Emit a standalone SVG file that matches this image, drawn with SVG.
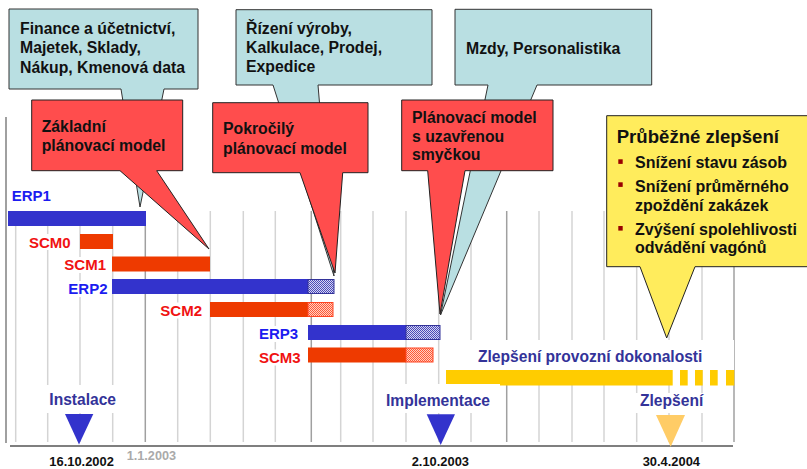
<svg xmlns="http://www.w3.org/2000/svg" width="807" height="469" viewBox="0 0 807 469">
  <defs>
    <style>
      text { font-family: "Liberation Sans", Arial, sans-serif; font-weight: bold; }
      .grid { stroke: #d4d4d4; stroke-width: 1.5; }
      .grid-major { stroke: #a0a0a0; stroke-width: 1.5; }
      .axis { stroke: #808080; stroke-width: 1.5; }
      .base { stroke: #555555; stroke-width: 1.5; }
      .bg { fill: #ffffff; }
      .erp { fill: #3333cc; }
      .scm { fill: #ee3a00; }
      .erp-lbl { fill: #1c1cf0; font-size: 15px; }
      .scm-lbl { fill: #f01212; font-size: 15px; }
      .callout-blue { fill: #b9dfe2; stroke: #333333; stroke-width: 1; }
      .callout-red { fill: #ff4d4d; stroke: #222222; stroke-width: 1; }
      .callout-yellow { fill: #ffec5c; stroke: #222222; stroke-width: 1; }
      .ct { fill: #111111; font-size: 15.8px; }
      .ms { fill: #333399; font-size: 15.6px; }
      .date { fill: #111111; font-size: 12.9px; }
      .date-minor { fill: #aaaaaa; font-size: 12.7px; }
      .bullet { fill: #990000; }
      .yt { fill: #111111; font-size: 16px; }
    </style>
    <pattern id="hatchBlue" width="2" height="2" patternUnits="userSpaceOnUse">
      <rect width="2" height="2" fill="#d4d4f2"/>
      <rect width="1" height="1" fill="#4a4ab8"/>
      <rect x="1" y="1" width="1" height="1" fill="#4a4ab8"/>
    </pattern>
    <pattern id="hatchOrange" width="2" height="2" patternUnits="userSpaceOnUse">
      <rect width="2" height="2" fill="#ffd0c4"/>
      <rect width="1" height="1" fill="#ff5a36"/>
      <rect x="1" y="1" width="1" height="1" fill="#ff5a36"/>
    </pattern>
  </defs>

  <rect width="807" height="469" fill="#ffffff"/>

  <!-- monthly grid -->
  <g id="grid">
    <line class="axis" x1="6" y1="117" x2="6" y2="443"/>
    <line class="grid" x1="15.7" y1="211" x2="15.7" y2="442"/>
    <line class="grid" x1="47.7" y1="211" x2="47.7" y2="442"/>
    <line class="grid" x1="80" y1="211" x2="80" y2="442"/>
    <line class="grid" x1="112.7" y1="211" x2="112.7" y2="442"/>
    <line class="grid-major" x1="145.3" y1="226" x2="145.3" y2="442"/>
    <line class="grid" x1="177.7" y1="211" x2="177.7" y2="442"/>
    <line class="grid" x1="210.3" y1="211" x2="210.3" y2="442"/>
    <line class="grid" x1="243.3" y1="211" x2="243.3" y2="442"/>
    <line class="grid" x1="275.3" y1="211" x2="275.3" y2="442"/>
    <line class="grid-major" x1="311.3" y1="211" x2="311.3" y2="442"/>
    <line class="grid" x1="340.7" y1="211" x2="340.7" y2="442"/>
    <line class="grid" x1="373" y1="211" x2="373" y2="442"/>
    <line class="grid" x1="406" y1="211" x2="406" y2="442"/>
    <line class="grid" x1="438.7" y1="211" x2="438.7" y2="442"/>
    <line class="grid" x1="471" y1="211" x2="471" y2="442"/>
    <line class="grid-major" x1="506.7" y1="211" x2="506.7" y2="442"/>
    <line class="grid" x1="539" y1="211" x2="539" y2="442"/>
    <line class="grid" x1="572" y1="211" x2="572" y2="442"/>
    <line class="grid" x1="604" y1="211" x2="604" y2="442"/>
    <line class="grid" x1="636.7" y1="211" x2="636.7" y2="442"/>
    <line class="grid" x1="669" y1="211" x2="669" y2="442"/>
    <line class="grid" x1="702" y1="211" x2="702" y2="442"/>
    <line class="grid-major" x1="734" y1="211" x2="734" y2="442"/>
    <line class="base" x1="10" y1="446" x2="733" y2="446"/>
  </g>

  <!-- project phases -->
  <g id="erp1">
    <rect class="erp" x="8" y="211" width="138" height="15"/>
    <text class="erp-lbl" x="11.7" y="201">ERP1</text>
  </g>
  <g id="scm0">
    <rect class="bg" x="27" y="234" width="47" height="16"/>
    <rect class="scm" x="80" y="234" width="33" height="15"/>
    <text class="scm-lbl" x="29" y="247.5">SCM0</text>
  </g>
  <g id="scm1">
    <rect class="bg" x="62" y="257" width="45" height="16"/>
    <rect class="scm" x="112" y="256.5" width="98" height="15"/>
    <text class="scm-lbl" x="64.3" y="270">SCM1</text>
  </g>
  <g id="erp2">
    <rect class="bg" x="66" y="281" width="44" height="16"/>
    <rect class="erp" x="112" y="279" width="196" height="15"/>
    <rect x="308" y="279.5" width="26" height="14" fill="url(#hatchBlue)" stroke="#333399" stroke-width="1"/>
    <text class="erp-lbl" x="68.3" y="294.3">ERP2</text>
  </g>
  <g id="scm2">
    <rect class="bg" x="158" y="302.5" width="46" height="16"/>
    <rect class="scm" x="210" y="302" width="98" height="15"/>
    <rect x="308" y="302.5" width="25" height="14" fill="url(#hatchOrange)" stroke="#ff4422" stroke-width="1"/>
    <text class="scm-lbl" x="160.3" y="315.7">SCM2</text>
  </g>
  <g id="erp3">
    <rect class="bg" x="257" y="326" width="43" height="16"/>
    <rect class="erp" x="308" y="325" width="98" height="15"/>
    <rect x="406" y="325.5" width="34" height="14" fill="url(#hatchBlue)" stroke="#333399" stroke-width="1"/>
    <text class="erp-lbl" x="259" y="339.3">ERP3</text>
  </g>
  <g id="scm3">
    <rect class="bg" x="257" y="349.5" width="45" height="16"/>
    <rect class="scm" x="308" y="347.5" width="98" height="15"/>
    <rect x="406" y="348" width="27" height="14" fill="url(#hatchOrange)" stroke="#ff4422" stroke-width="1"/>
    <text class="scm-lbl" x="259" y="362.7">SCM3</text>
  </g>
  <g id="operational-excellence">
    <rect class="bg" x="446" y="340" width="288" height="30"/>
    <text class="ms" x="478" y="361.7" font-size="16">Zlepšení provozní dokonalosti</text>
    <g fill="#ffcc00">
      <rect x="446" y="370" width="226.7" height="15.5"/>
      <rect x="680" y="370" width="7.7" height="15.5"/>
      <rect x="695" y="370" width="7.7" height="15.5"/>
      <rect x="710" y="370" width="7.7" height="15.5"/>
      <rect x="726" y="370" width="8.3" height="15.5"/>
    </g>
  </g>

  <!-- milestones -->
  <g id="milestone-instalace">
    <rect class="bg" x="30" y="385" width="105" height="28"/>
    <text class="ms" x="49.3" y="405">Instalace</text>
    <polygon points="65,414 93.3,414 79,444.5" fill="#3333cc"/>
  </g>
  <g id="milestone-implementace">
    <rect class="bg" x="378" y="384" width="122" height="29"/>
    <text class="ms" x="386" y="406">Implementace</text>
    <polygon points="426.7,414.3 455,414.3 440.7,445" fill="#3333cc"/>
  </g>
  <g id="milestone-zlepseni">
    <rect class="bg" x="634" y="393" width="78" height="20"/>
    <text class="ms" x="640" y="406">Zlepšení</text>
    <polygon points="656,415 685,415 670.7,446.7" fill="#ffcc66"/>
  </g>

  <!-- dates -->
  <g id="dates">
    <text class="date" x="49.3" y="465.5">16.10.2002</text>
    <text class="date-minor" x="126.7" y="460">1.1.2003</text>
    <text class="date" x="411.7" y="465.5">2.10.2003</text>
    <text class="date" x="642.7" y="465.5">30.4.2004</text>
  </g>

  <!-- module callouts -->
  <g id="modules-1">
    <path class="callout-blue" d="M9,9 H198 V89 H164 L140,207 L121,89 H9 Z"/>
    <text class="ct" x="20" y="33.7">Finance a účetnictví,</text>
    <text class="ct" x="20" y="53.3">Majetek, Sklady,</text>
    <text class="ct" x="20" y="72.7">Nákup, Kmenová data</text>
  </g>
  <g id="modules-2">
    <path class="callout-blue" d="M236,9.7 H432 V85 H318 L334,276 L273,85 H236 Z"/>
    <text class="ct" x="246" y="34">Řízení výroby,</text>
    <text class="ct" x="246" y="53.3">Kalkulace, Prodej,</text>
    <text class="ct" x="246" y="72.3">Expedice</text>
  </g>
  <g id="modules-3">
    <path class="callout-blue" d="M455,9.3 H651.7 V85 H537 L440.5,315 L488,85 H455 Z"/>
    <text class="ct" x="466" y="54">Mzdy, Personalistika</text>
  </g>

  <!-- planning model callouts -->
  <g id="model-basic">
    <path class="callout-red" d="M31.7,100 H182.7 V170.7 H156.7 L209,249 L120,170.7 H31.7 Z"/>
    <text class="ct" x="41.7" y="131.7">Základní</text>
    <text class="ct" x="41.7" y="150.7">plánovací model</text>
  </g>
  <g id="model-advanced">
    <path class="callout-red" d="M212.7,102.7 H368 V172.7 H342.7 L335,273 L300,172.7 H212.7 Z"/>
    <text class="ct" x="223" y="134.3">Pokročilý</text>
    <text class="ct" x="223" y="154">plánovací model</text>
  </g>
  <g id="model-closed-loop">
    <path class="callout-red" d="M401.7,100 H553 V170.7 H465 L440,314 L427.7,170.7 H401.7 Z"/>
    <text class="ct" x="412" y="123.3">Plánovací model</text>
    <text class="ct" x="412" y="141.5">s uzavřenou</text>
    <text class="ct" x="412" y="159.5">smyčkou</text>
  </g>

  <!-- continuous improvement -->
  <g id="continuous-improvement">
    <path class="callout-yellow" d="M606.7,115.7 H808 V266.7 H695 L666.7,338 L640,266.7 H606.7 Z"/>
    <text x="616.7" y="142.7" font-size="18.6" fill="#111111">Průběžné zlepšení</text>
    <rect class="bullet" x="618.3" y="159.3" width="4.4" height="4.6"/>
    <text class="yt" x="635" y="168.3">Snížení stavu zásob</text>
    <rect class="bullet" x="618.3" y="182.3" width="4.4" height="4.6"/>
    <text class="yt" x="635" y="192">Snížení průměrného</text>
    <text class="yt" x="635" y="210.5">zpoždění zakázek</text>
    <rect class="bullet" x="618.3" y="226" width="4.4" height="4.6"/>
    <text class="yt" x="635" y="235">Zvýšení spolehlivosti</text>
    <text class="yt" x="635" y="253.3">odvádění vagónů</text>
  </g>
</svg>
